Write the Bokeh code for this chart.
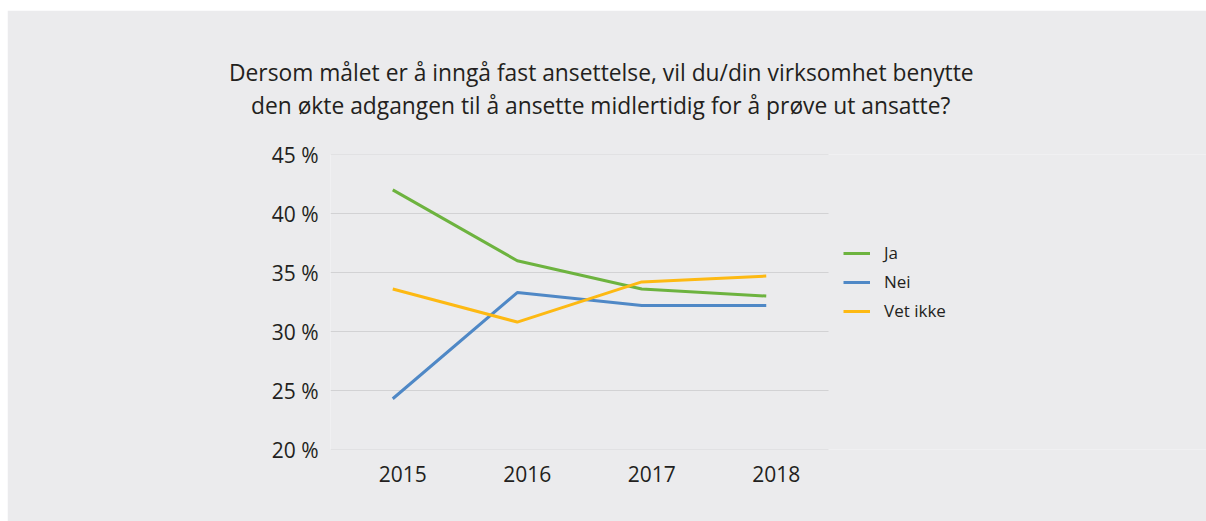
from bokeh.plotting import figure
from bokeh.models import (ColumnDataSource, Legend, LegendItem, Title, FixedTicker,
                          Range1d, LinearAxis)
from bokeh.embed import file_html
from bokeh.resources import INLINE

years = ["2015", "2016", "2017", "2018"]
ja = [42.0, 36.0, 33.6, 33.0]
nei = [24.3, 33.3, 32.2, 32.2]
vet_ikke = [33.6, 30.8, 34.2, 34.7]
series_names = ["Ja", "Nei", "Vet ikke"]
y_ticks = [20, 25, 30, 35, 40, 45]
title_lines = [
    "Dersom målet er å inngå fast ansettelse, vil du/din virksomhet benytte",
    "den økte adgangen til å ansette midlertidig for å prøve ut ansatte?",
]

FONT = "Open Sans"
TXT = "#231F20"
BG = "#EBEBED"
GRID = "#D2D2D4"
colors = ["#6DB33F", "#4F88C6", "#FDB913"]

xs = list(range(1, len(years) + 1))

# layout in pixels
FIG_W, FIG_H = 1199, 511
LEFT, TOP, BOTTOM = 323, 144, 72
FRAME_W = FIG_W - LEFT
PX_PER_X = 124.5          # px per category step
x0 = 0.5
x1 = x0 + FRAME_W / PX_PER_X
x_end_plot = len(years) + 0.5

p = figure(width=FIG_W, height=FIG_H, output_backend="svg", toolbar_location=None,
           x_range=Range1d(x0, x1), y_range=Range1d(min(y_ticks), max(y_ticks)),
           x_axis_location=None)
p.margin = (10, 0, 0, 7)
p.min_border_left = LEFT
p.min_border_right = 0
p.min_border_top = TOP
p.min_border_bottom = BOTTOM
p.background_fill_color = BG
p.border_fill_color = BG
p.outline_line_color = None
p.xgrid.grid_line_color = None
p.ygrid.grid_line_color = None

# year labels sit slightly right of the data points
shift = 0.08
p.extra_x_ranges = {"lab": Range1d(x0 - shift, x1 - shift)}
xaxis = LinearAxis(x_range_name="lab")
p.add_layout(xaxis, "below")

p.yaxis.ticker = FixedTicker(ticks=y_ticks)
p.yaxis.major_label_overrides = {t: f"{t} %" for t in y_ticks}
xaxis.ticker = FixedTicker(ticks=xs)
xaxis.major_label_overrides = {x: y for x, y in zip(xs, years)}
for ax in (xaxis, p.yaxis[0]):
    ax.axis_line_color = None
    ax.major_tick_line_color = None
    ax.minor_tick_line_color = None
    ax.major_label_text_font = FONT
    ax.major_label_text_font_size = "21px"
    ax.major_label_text_color = TXT
xaxis.major_label_standoff = 10
p.yaxis.major_label_standoff = 6

# horizontal gridlines over the plotting area only
p.segment(x0=[x0] * len(y_ticks), x1=[x_end_plot] * len(y_ticks), y0=y_ticks, y1=y_ticks,
          line_color=GRID, line_width=1.2)

renderers = []
for vals, c in zip([ja, nei, vet_ikke], colors):
    src = ColumnDataSource(dict(x=xs, y=vals))
    r = p.line("x", "y", source=src, line_color=c, line_width=3)
    renderers.append(r)

legend = Legend(items=[LegendItem(label=n, renderers=[r]) for n, r in zip(series_names, renderers)],
                location=(513, 127))
legend.background_fill_alpha = 0
legend.border_line_color = None
legend.padding = 0
legend.margin = 0
legend.spacing = 6
legend.glyph_width = 27
legend.glyph_height = 20
legend.label_height = 20
legend.label_standoff = 14
legend.label_text_font = FONT
legend.label_text_font_size = "17px"
legend.label_text_color = TXT
p.add_layout(legend)

# spacer between the plot and the title block (innermost)
spacer = Title(text=" ", text_font_size="10px", standoff=21)
p.add_layout(spacer, "above")

# title lines (inner first), left-aligned so each line is centred near x=600
t2 = Title(text=title_lines[1], align="left", offset=-79.5, standoff=0,
           text_font=FONT, text_font_size="22.8px", text_font_style="normal", text_color=TXT)
t1 = Title(text=title_lines[0], align="left", offset=-101.5, standoff=0,
           text_font=FONT, text_font_size="22.8px", text_font_style="normal", text_color=TXT)
p.add_layout(t2, "above")
p.add_layout(t1, "above")

open("out.html", "w").write(file_html(p, INLINE))
